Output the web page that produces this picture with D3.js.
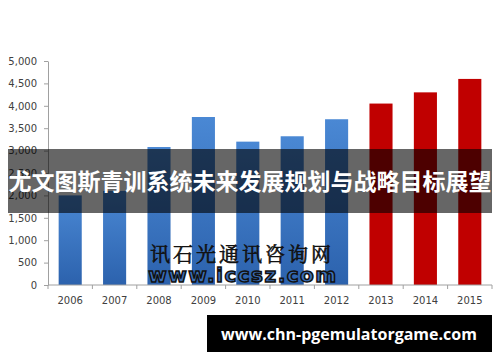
<!DOCTYPE html>
<html>
<head>
<meta charset="utf-8">
<script src="https://cdn.jsdelivr.net/npm/d3@7"></script>
<style>
  body { margin: 0; background: #fff; }
  svg { display: block; }
</style>
</head>
<body>
<div id="chart"></div>
<script>
// Chart data
const years = ["2006", "2007", "2008", "2009", "2010", "2011", "2012", "2013", "2014", "2015"];
const values = [2000, 2100, 3080, 3750, 3200, 3320, 3700, 4050, 4300, 4600];
const forecast = [false, false, false, false, false, false, false, true, true, true];
const yTicks = [0, 500, 1000, 1500, 2000, 2500, 3000, 3500, 4000, 4500, 5000];
const bannerText = "尤文图斯青训系统未来发展规划与战略目标展望";
const watermarkCn = "讯石光通讯咨询网";
const watermarkUrl = "www.iccsz.com";
const footerText = "www.chn-pgemulatorgame.com";

const width = 500;
const height = 362;
const marginTop = 61;
const marginRight = 8;
const marginBottom = 77;
const marginLeft = 48;

const svg = d3.select("#chart")
  .append("svg")
  .attr("width", width)
  .attr("height", height);

const defs = svg.append("defs");
const grad = defs.append("linearGradient")
  .attr("id", "blueGrad")
  .attr("x1", 0).attr("y1", 0).attr("x2", 0).attr("y2", 1);
grad.append("stop").attr("offset", "0%").attr("stop-color", "#4a88d4");
grad.append("stop").attr("offset", "100%").attr("stop-color", "#2c62ad");

const x = d3.scaleBand()
  .domain(years)
  .range([marginLeft, width - marginRight])
  .paddingInner(0.48)
  .paddingOuter(0.24);

const y = d3.scaleLinear()
  .domain([0, 5000])
  .range([height - marginBottom, marginTop]);

// Bars
svg.append("g")
  .selectAll("rect")
  .data(years)
  .join("rect")
  .attr("x", d => x(d))
  .attr("width", x.bandwidth())
  .attr("y", (d, i) => y(values[i]))
  .attr("height", (d, i) => y(0) - y(values[i]))
  .attr("fill", (d, i) => forecast[i] ? "#c00000" : "url(#blueGrad)");

// y-axis
const yAxis = svg.append("g")
  .attr("transform", `translate(${marginLeft},0)`)
  .call(d3.axisLeft(y).tickValues(yTicks).tickFormat(d3.format(",")).tickSize(4).tickSizeOuter(0));
yAxis.select(".domain").attr("stroke", "#a0a0a0");
yAxis.selectAll(".tick line").attr("stroke", "#a0a0a0");
yAxis.selectAll(".tick text")
  .attr("x", -11)
  .attr("fill", "#404040")
  .style("font-family", "'DejaVu Sans', sans-serif")
  .style("font-size", "10px");

// x-axis with ticks between categories
const xAxis = svg.append("g")
  .attr("transform", `translate(0,${height - marginBottom})`);
xAxis.append("line")
  .attr("x1", marginLeft).attr("x2", width - marginRight)
  .attr("stroke", "#a0a0a0");
xAxis.selectAll(".sep")
  .data(d3.range(years.length + 1))
  .join("line")
  .attr("x1", i => marginLeft + i * (width - marginLeft - marginRight) / years.length)
  .attr("x2", i => marginLeft + i * (width - marginLeft - marginRight) / years.length)
  .attr("y1", 0).attr("y2", 4)
  .attr("stroke", "#a0a0a0");
xAxis.selectAll("text")
  .data(years)
  .join("text")
  .attr("x", d => x(d) + x.bandwidth() / 2)
  .attr("y", 19)
  .attr("text-anchor", "middle")
  .attr("fill", "#404040")
  .style("font-family", "'DejaVu Sans', sans-serif")
  .style("font-size", "10px")
  .text(d => d);

// Watermark
svg.append("text")
  .attr("x", 242).attr("y", 262)
  .attr("text-anchor", "middle")
  .attr("fill", "#111")
  .attr("stroke", "#111")
  .attr("stroke-width", 0.6)
  .style("font-family", "'Noto Serif CJK SC', 'Noto Sans CJK SC', serif")
  .style("font-size", "20px")
  .style("letter-spacing", "3px")
  .text(watermarkCn);
svg.append("text")
  .attr("x", 243).attr("y", 282)
  .attr("text-anchor", "middle")
  .attr("fill", "#3b6fb8")
  .attr("stroke", "#111")
  .attr("stroke-width", 1.5)
  .style("font-family", "'DejaVu Sans', sans-serif")
  .style("font-weight", "bold")
  .style("font-size", "20px")
  .style("letter-spacing", "1.5px")
  .text(watermarkUrl);

// Title banner
svg.append("rect")
  .attr("x", 8).attr("y", 149)
  .attr("width", 484).attr("height", 64)
  .attr("fill", "#000")
  .attr("fill-opacity", 0.6);
svg.append("text")
  .attr("x", 250).attr("y", 190)
  .attr("text-anchor", "middle")
  .attr("fill", "#fff")
  .style("font-family", "'Noto Sans CJK SC', sans-serif")
  .style("font-weight", "bold")
  .style("font-size", "23px")
  .text(bannerText);

// Footer box
svg.append("rect")
  .attr("x", 207).attr("y", 315)
  .attr("width", 285).attr("height", 37)
  .attr("fill", "#000");
svg.append("text")
  .attr("x", 349).attr("y", 340)
  .attr("text-anchor", "middle")
  .attr("fill", "#fff")
  .style("font-family", "'Open Sans', sans-serif")
  .style("font-weight", "bold")
  .style("font-size", "16px")
  .text(footerText);
</script>
</body>
</html>
